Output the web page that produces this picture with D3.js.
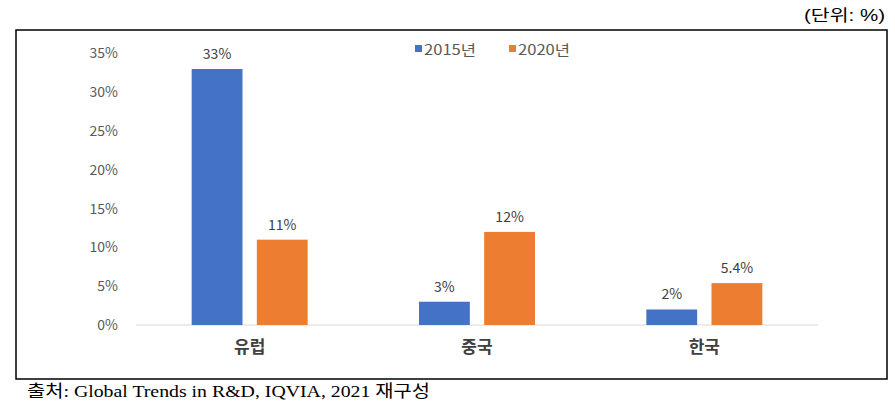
<!DOCTYPE html>
<html><head><meta charset="utf-8">
<script src="https://cdn.jsdelivr.net/npm/d3@7"></script>
<style>
body{margin:0;background:#fff;}
</style></head>
<body><svg id="c" width="895" height="411"></svg>
<script>
const categories = ["유럽", "중국", "한국"];
const seriesNames = ["2015년", "2020년"];
const values2015 = [33, 3, 2];
const values2020 = [11, 12, 5.4];
const valueLabels2015 = ["33%", "3%", "2%"];
const valueLabels2020 = ["11%", "12%", "5.4%"];
const yTicks = [0, 5, 10, 15, 20, 25, 30, 35];
const colors = ["#4472C4", "#ED7D31"];

const SANS = "'Noto Sans CJK KR','Noto Sans',sans-serif";
const svg = d3.select("#c");
svg.append("rect").attr("x",16).attr("y",30).attr("width",871).attr("height",349)
  .attr("fill","none").attr("stroke","#000").attr("stroke-width",1.5);

svg.append("text").attr("x",885).attr("y",21).attr("text-anchor","end")
  .style("font-family","'Liberation Sans','Noto Sans CJK KR',sans-serif")
  .attr("font-size",16).attr("fill","#000").attr("textLength",81).attr("lengthAdjust","spacingAndGlyphs")
  .text("(단위: %)");

const x0 = d3.scaleBand().domain(categories).range([136,818]);
const groupW = 116;
const x1 = d3.scaleBand().domain(seriesNames).range([0,groupW]).paddingInner(0.22);
const y = d3.scaleLinear().domain([0,35]).range([325,53.5]);

// y axis labels
const yAxis = d3.axisLeft(y).tickValues(yTicks).tickFormat(d=>d+"%").tickSize(0).tickPadding(0);
const ga = svg.append("g").attr("transform","translate(118,0)").call(yAxis);
ga.select(".domain").remove();
ga.selectAll("text").attr("font-size",14).attr("fill","#595959").style("font-family",SANS);

// baseline
svg.append("line").attr("x1",136).attr("x2",818).attr("y1",y(0)).attr("y2",y(0))
  .attr("stroke","#D9D9D9").attr("stroke-width",1);

const data = categories.map((c,i)=>({cat:c, vals:[
  {s:seriesNames[0], v:values2015[i], l:valueLabels2015[i], c:colors[0]},
  {s:seriesNames[1], v:values2020[i], l:valueLabels2020[i], c:colors[1]}]}));

const g = svg.selectAll("g.grp").data(data).join("g").attr("class","grp")
  .attr("transform",d=>`translate(${x0(d.cat)+(x0.bandwidth()-groupW)/2},0)`);
g.selectAll("rect").data(d=>d.vals).join("rect")
  .attr("x",d=>x1(d.s)).attr("width",x1.bandwidth())
  .attr("y",d=>y(d.v)).attr("height",d=>y(0)-y(d.v)).attr("fill",d=>d.c);
g.selectAll("text.val").data(d=>d.vals).join("text").attr("class","val")
  .attr("x",d=>x1(d.s)+x1.bandwidth()/2).attr("y",d=>y(d.v)-10)
  .attr("text-anchor","middle").attr("font-size",14).attr("fill","#404040")
  .style("font-family",SANS).text(d=>d.l);

// category labels
const xAxis = d3.axisBottom(x0).tickSize(0).tickPadding(0);
const gx = svg.append("g").attr("transform",`translate(0,${y(0)})`).call(xAxis);
gx.select(".domain").remove();
gx.selectAll("text").attr("y",28).attr("dy",0).attr("font-size",17).attr("font-weight","bold")
  .attr("fill","#404040").style("font-family",SANS);

// legend
const legendX = [415, 509];
const lg = svg.selectAll("g.leg").data(seriesNames).join("g").attr("class","leg")
  .attr("transform",(d,i)=>`translate(${legendX[i]},0)`);
lg.append("rect").attr("x",0).attr("y",45).attr("width",7).attr("height",7).attr("fill",(d,i)=>colors[i]);
lg.append("text").attr("x",9).attr("y",55).attr("font-size",14).attr("fill","#595959")
  .style("font-family",SANS).attr("textLength",52).attr("lengthAdjust","spacingAndGlyphs").text(d=>d);

// source
svg.append("text").attr("x",27).attr("y",397).attr("font-size",17)
  .style("font-family","'Liberation Serif','DejaVu Serif','Noto Sans CJK KR',serif")
  .attr("fill","#000").attr("textLength",403).attr("lengthAdjust","spacingAndGlyphs")
  .text("출처: Global Trends in R&D, IQVIA, 2021 재구성");
</script></body></html>
